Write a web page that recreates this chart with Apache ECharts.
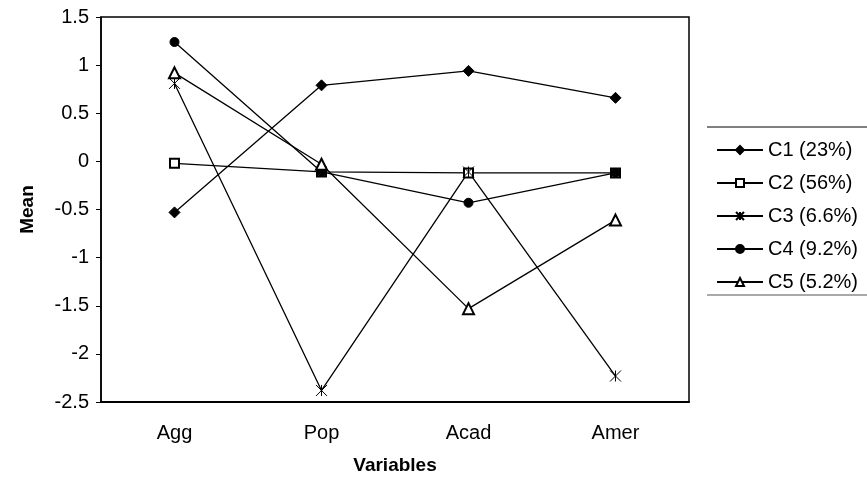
<!DOCTYPE html>
<html>
<head>
<meta charset="utf-8">
<script src="https://cdn.jsdelivr.net/npm/echarts@6/dist/echarts.min.js"></script>
<style>
  html, body { margin: 0; padding: 0; background: #fff; }
  #chart { width: 867px; height: 482px; }
</style>
</head>
<body>
<div id="chart"></div>
<script>
  // categories on the x axis
  var variables = ['Agg', 'Pop', 'Acad', 'Amer'];
  // cluster means
  var c1 = [-0.53, 0.79, 0.94, 0.66];
  var c2 = [-0.02, -0.11, -0.12, -0.12];
  var c3 = [0.81, -2.38, -0.11, -2.23];
  var c4 = [1.24, -0.11, -0.43, -0.12];
  var c5 = [0.92, -0.03, -1.53, -0.61];
  var names = ['C1 (23%)', 'C2 (56%)', 'C3 (6.6%)', 'C4 (9.2%)', 'C5 (5.2%)'];

  var font = 'Liberation Sans, Arial, sans-serif';
  // asterisk marker for C3
  var starPath = 'path://M0,0 L10,10 M10,0 L0,10 M5,0 L5,10';

  function line(name, data, symbol, size) {
    return {
      name: name,
      type: 'line',
      data: data,
      symbol: symbol,
      symbolSize: size,
      showAllSymbol: true,
      lineStyle: { color: '#000', width: 1.3 },
      itemStyle: { color: '#000', borderColor: '#000', borderWidth: 1 },
      emphasis: { disabled: true },
      z: 3
    };
  }

  var chart = echarts.init(document.getElementById('chart'));
  chart.setOption({
    animation: false,
    backgroundColor: '#fff',
    textStyle: { fontFamily: font, color: '#000' },
    grid: {
      left: 101, right: 178, top: 17, bottom: 80,
      show: true, borderColor: '#000', borderWidth: 1.5
    },
    legend: {
      orient: 'vertical',
      left: 711,
      top: 135,
      itemWidth: 46,
      itemHeight: 10,
      itemGap: 13,
      textStyle: { fontFamily: font, fontSize: 20, color: '#000' },
      data: names
    },
    graphic: [
      { type: 'line', shape: { x1: 707, y1: 127, x2: 867, y2: 127 }, style: { stroke: '#000', lineWidth: 1 } },
      { type: 'line', shape: { x1: 707, y1: 295, x2: 867, y2: 295 }, style: { stroke: '#555', lineWidth: 1 } }
    ],
    xAxis: {
      type: 'category',
      data: variables,
      boundaryGap: true,
      name: 'Variables',
      nameLocation: 'middle',
      nameGap: 54,
      nameTextStyle: { fontFamily: font, fontSize: 19, fontWeight: 'bold', color: '#000' },
      axisLine: { onZero: false, lineStyle: { color: '#000', width: 2 } },
      axisTick: { show: false },
      axisLabel: { fontSize: 20, color: '#000', margin: 21 },
      splitLine: { show: false }
    },
    yAxis: {
      type: 'value',
      min: -2.5,
      max: 1.5,
      interval: 0.5,
      name: 'Mean',
      nameLocation: 'middle',
      nameGap: 64,
      nameTextStyle: { fontFamily: font, fontSize: 19, fontWeight: 'bold', color: '#000' },
      axisLine: { show: true, lineStyle: { color: '#000', width: 1.5 } },
      axisTick: { show: true, length: 5, lineStyle: { color: '#000' } },
      axisLabel: { fontSize: 20, color: '#000', margin: 12 },
      splitLine: { show: false }
    },
    series: [
      line(names[0], c1, 'diamond', 11),
      line(names[1], c2, 'emptyRect', 9),
      line(names[2], c3, starPath, 11),
      line(names[3], c4, 'circle', 9),
      line(names[4], c5, 'emptyTriangle', 11)
    ]
  });
</script>
</body>
</html>
